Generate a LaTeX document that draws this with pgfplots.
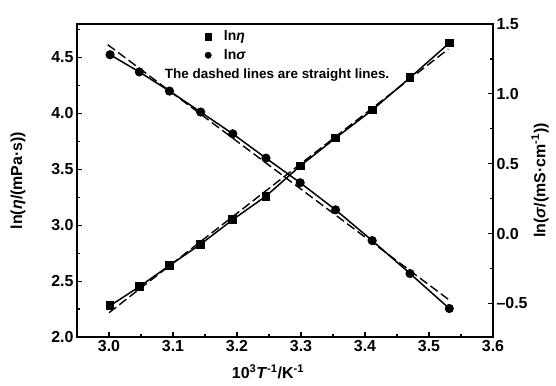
\documentclass[border=0pt]{standalone}
\usepackage{pgfplots}
\pgfplotsset{compat=1.18}
\usepackage{pgfplotstable}
\usepackage{fontspec}
\setmainfont{Liberation Sans}

\pgfplotstableread{
x eta sigma
3.0017 2.28 1.280
3.0474 2.45 1.157
3.0945 2.64 1.020
3.1432 2.83 0.870
3.1934 3.05 0.714
3.2452 3.26 0.540
3.2987 3.53 0.364
3.3540 3.78 0.170
3.4112 4.03 -0.050
3.4704 4.32 -0.286
3.5317 4.63 -0.536
}\datatab

\pgfplotsset{
  common/.style={
    scale only axis, width=416bp, height=313bp,
    at={(77bp,48bp)}, anchor=south west,
    xmin=2.95, xmax=3.6,
    tick align=inside,
    major tick length=5bp, minor tick length=3bp,
    every tick/.style={line width=1.2bp, black},
    every minor tick/.style={line width=1.2bp, black},
    axis line style={line width=1.6bp, black},
    ticklabel style={font=\bfseries\fontsize{16}{16}\selectfont},
  }
}

\begin{document}
\begin{tikzpicture}[x=1bp,y=1bp]
\path[use as bounding box] (0,0) rectangle (556,385);
\begin{axis}[common,
  ymin=2.0, ymax=4.8,
  xtick={3.0,3.1,3.2,3.3,3.4,3.5,3.6},
  xticklabels={3.0,3.1,3.2,3.3,3.4,3.5,3.6},
  minor xtick={3.05,3.15,3.25,3.35,3.45,3.55},
  ytick={2.0,2.5,3.0,3.5,4.0,4.5},
  yticklabels={2.0,2.5,3.0,3.5,4.0,4.5},
  minor ytick={2.25,2.75,3.25,3.75,4.25,4.75},
  xtick pos=left, ytick pos=left,
  every axis x label/.style={at={(rel axis cs:0.459,-0.112)}, anchor=center,
    font=\bfseries\fontsize{16}{18}\selectfont},
  every axis y label/.style={at={(rel axis cs:-0.142,0.5)}, rotate=90, anchor=center,
    font=\bfseries\fontsize{16}{18}\selectfont},
  xlabel={10\textsuperscript{3}\textit{T}\textsuperscript{-1}/K\textsuperscript{-1}},
  ylabel={ln(\textit{η}/(mPa·s))},
]
\addplot[black, line width=1.4bp, dash pattern=on 9bp off 4bp, forget plot]
  coordinates {(3.0,2.217) (3.53,4.575)};
\addplot[black, line width=1.5bp, mark=square*, mark size=3.6bp, forget plot]
  table[x=x, y=eta]{\datatab};
\node[anchor=base, inner sep=1bp, font=\bfseries\fontsize{13.5}{14}\selectfont]
  at (rel axis cs:0.481,0.8255) {The dashed lines are straight lines.};
\end{axis}
\begin{axis}[common,
  axis x line=none, axis y line*=right,
  ymin=-0.74, ymax=1.5,
  ytick={-0.5,0,0.5,1.0,1.5},
  yticklabels={\textendash0.5,0.0,0.5,1.0,1.5},
  minor ytick={-0.25,0.25,0.75,1.25},
  ytick pos=right,
  every axis y label/.style={at={(rel axis cs:1.113,0.5)}, rotate=90, anchor=center,
    font=\bfseries\fontsize{16}{18}\selectfont},
  ylabel={ln(\textit{σ}/(mS·cm\textsuperscript{-1}))},
  legend style={at={(rel axis cs:0.30,0.99)}, anchor=north west, draw=none, fill=none,
    font=\bfseries\fontsize{14}{14}\selectfont, row sep=4bp,
    nodes={inner sep=1.5bp},
    /tikz/every odd column/.append style={column sep=11bp}},
  legend cell align=left,
]
\addlegendimage{only marks, mark=square*, mark size=3.2bp, black}
\addlegendentry{ln\textit{η}}
\addlegendimage{only marks, mark=*, mark size=3.2bp, black}
\addlegendentry{ln\textit{σ}}
\addplot[black, line width=1.4bp, dash pattern=on 9bp off 4bp, forget plot]
  coordinates {(2.998,1.352) (3.533,-0.48)};
\addplot[black, line width=1.5bp, mark=*, mark size=3.8bp, forget plot]
  table[x=x, y=sigma]{\datatab};
\end{axis}
\end{tikzpicture}
\end{document}
